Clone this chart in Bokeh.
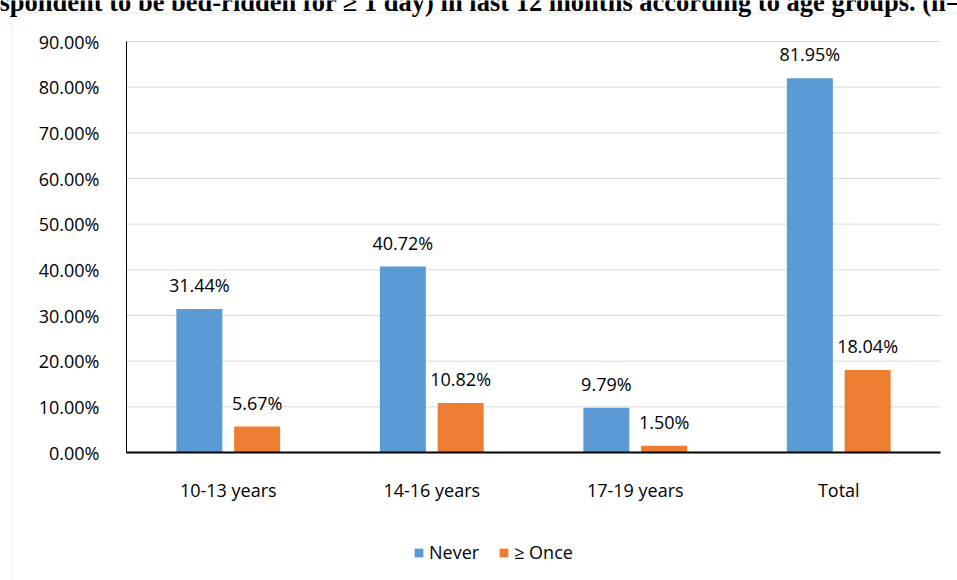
from bokeh.plotting import figure
from bokeh.models import (ColumnDataSource, Range1d, NumeralTickFormatter, Label,
                          Legend, LegendItem, BoxAnnotation, FixedTicker)
from bokeh.core.properties import value
from bokeh.embed import file_html
from bokeh.resources import INLINE

categories = ["10-13 years", "14-16 years", "17-19 years", "Total"]
never = [0.3144, 0.4072, 0.0979, 0.8195]
once = [0.0567, 0.1082, 0.0150, 0.1804]
series_names = ["Never", "\u2265 Once"]
y_ticks = [0.0, 0.1, 0.2, 0.3, 0.4, 0.5, 0.6, 0.7, 0.8, 0.9]
title_text = "spondent to be bed-ridden for \u2265 1 day) in last 12 months according to age groups. (n="

FONT = "Open Sans"
FS = "18px"
BLUE = "#5B9BD5"
ORANGE = "#ED7D31"
GRAY = "#D9D9D9"

W, H = 957, 580
# frame fills the whole canvas; the plot area spans px 126..940 x 41..452
PX_LEFT, PX_RIGHT, PX_TOP, PX_BOTTOM = 126, 940, 41, 452
n = len(categories)
ymax = y_ticks[-1]
xs = (PX_RIGHT - PX_LEFT) / n          # px per category
ys = (PX_BOTTOM - PX_TOP) / ymax       # px per unit
x0_px = PX_LEFT + xs / 2               # px of category index 0
x_start = (0 - x0_px) / xs
x_end = (W - x0_px) / xs
y_start = -(H - PX_BOTTOM) / ys
y_end = ymax + PX_TOP / ys

idx = list(range(n))
off = 0.142
bw = 0.226

src = ColumnDataSource(dict(
    xn=[i - off for i in idx],
    xo=[i + off for i in idx],
    never=never,
    once=once,
    never_lbl=[f"{v*100:.2f}%" for v in never],
    once_lbl=[f"{v*100:.2f}%" for v in once],
))

p = figure(width=W, height=H, x_range=Range1d(x_start, x_end), y_range=Range1d(y_start, y_end),
           output_backend="svg", toolbar_location=None, min_border=0)
p.outline_line_color = None
p.background_fill_color = "white"
p.border_fill_color = "white"
p.xgrid.visible = False
p.ygrid.visible = False

# gridlines limited to plot area
grid_src = ColumnDataSource(dict(y=y_ticks[1:], x0=[-0.5] * (len(y_ticks) - 1),
                                 x1=[n - 0.5] * (len(y_ticks) - 1)))
p.segment(x0="x0", x1="x1", y0="y", y1="y", source=grid_src, line_color=GRAY, line_width=1)

r1 = p.vbar(x="xn", top="never", width=bw, source=src, fill_color=BLUE, line_color=None)
r2 = p.vbar(x="xo", top="once", width=bw, source=src, fill_color=ORANGE, line_color=None)

p.text(x="xn", y="never", text="never_lbl", source=src,
       text_align="center", text_baseline="middle", y_offset=-24,
       text_font=value(FONT), text_font_size=FS, text_color="black")
p.text(x="xo", y="once", text="once_lbl", source=src,
       text_align="center", text_baseline="middle", y_offset=-24,
       text_font=value(FONT), text_font_size=FS, text_color="black")

# axes drawn inside the frame at fixed locations
yax = p.yaxis[0]
xax = p.xaxis[0]
yax.fixed_location = -0.5
yax.bounds = (0, ymax)
yax.ticker = FixedTicker(ticks=y_ticks)
yax.formatter = NumeralTickFormatter(format="0.00%")
yax.major_label_standoff = 21
yax.axis_line_width = 1
xax.fixed_location = 0
xax.bounds = (-0.5, n - 0.5)
xax.ticker = FixedTicker(ticks=idx)
xax.major_label_overrides = {i: c for i, c in zip(idx, categories)}
xax.major_label_standoff = 19
xax.axis_line_width = 2
for ax in (xax, yax):
    ax.major_tick_line_color = None
    ax.minor_tick_line_color = None
    ax.axis_line_color = "black"
    ax.major_label_text_font = FONT
    ax.major_label_text_font_size = FS
    ax.major_label_text_color = "black"

# legend
legend = Legend(items=[LegendItem(label=series_names[0], renderers=[r1]),
                       LegendItem(label=series_names[1], renderers=[r2])],
                orientation="horizontal", location=(413, 16),
                glyph_width=11, glyph_height=11, label_standoff=5, spacing=19,
                padding=0, margin=0, border_line_color=None, background_fill_alpha=0,
                label_text_font=FONT, label_text_font_size=FS, label_text_color="black")
p.add_layout(legend, "center")

# chart border (light gray, left and top)
p.add_layout(BoxAnnotation(left=11, right=W + 50, top=H - 12.5, bottom=-50,
                           left_units="screen", right_units="screen",
                           top_units="screen", bottom_units="screen",
                           fill_alpha=0, line_color=GRAY, line_width=2))

# clipped title text at the top (cut off by the window edge as in the source)
p.add_layout(Label(x=-1, y=H - 1, x_units="screen", y_units="screen", text=title_text,
                   text_font="Liberation Serif", text_font_style="bold",
                   text_font_size="26.5px", text_baseline="alphabetic", text_color="black"))

open("out.html", "w").write(file_html(p, INLINE))
